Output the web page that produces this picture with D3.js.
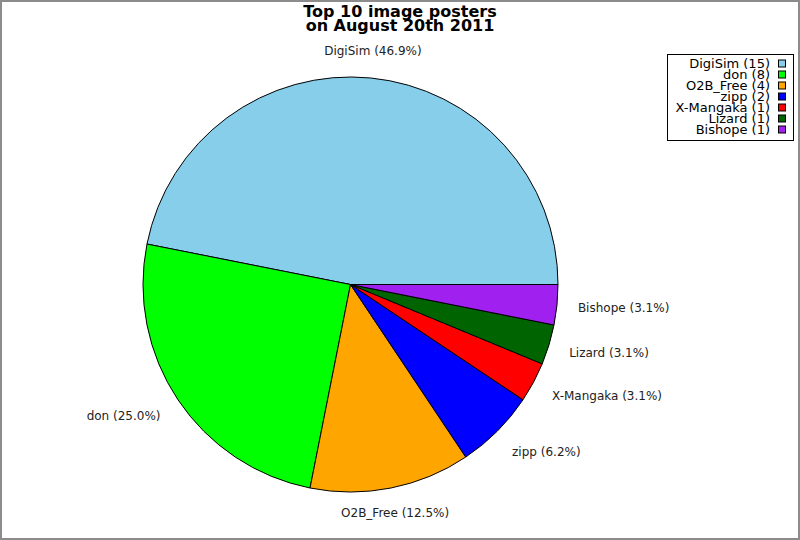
<!DOCTYPE html>
<html>
<head>
<meta charset="utf-8">
<script src="https://cdn.jsdelivr.net/npm/d3@7"></script>
<style>
  body { margin: 0; background: #fff; }
  svg { display: block; }
  text { font-family: "DejaVu Sans", sans-serif; }
</style>
</head>
<body>
<script>
// chart data
var titleLines = ['Top 10 image posters', 'on August 20th 2011'];
var posters = ['DigiSim', 'don', 'O2B_Free', 'zipp', 'X-Mangaka', 'Lizard', 'Bishope'];
var counts = [15, 8, 4, 2, 1, 1, 1];
var colors = ['#87ceeb', '#00ff00', '#ffa500', '#0000ff', '#ff0000', '#006400', '#a020f0'];

var width = 800;
var height = 540;
var cx = 350.5;
var cy = 284.5;
var radius = 207.5;

// one decimal, halves go to the even digit (6.25 -> 6.2)
function pct(v) {
  var t = v * 10;
  var f = Math.floor(t);
  var r = t - f;
  var n = r > 0.5 + 1e-9 ? f + 1 : (r < 0.5 - 1e-9 ? f : (f % 2 === 0 ? f : f + 1));
  return (n / 10).toFixed(1);
}

var svg = d3.select('body')
  .append('svg')
  .attr('width', width)
  .attr('height', height);

// frame
svg.append('rect')
  .attr('x', 1)
  .attr('y', 1)
  .attr('width', width - 2)
  .attr('height', height - 2)
  .attr('fill', '#fff')
  .attr('stroke', '#8c8c8c')
  .attr('stroke-width', 2);

// title
svg.append('g')
  .selectAll('text')
  .data(titleLines)
  .enter()
  .append('text')
  .attr('x', 400)
  .attr('y', function(d, i) { return 17 + i * 13.5; })
  .attr('text-anchor', 'middle')
  .style('font-size', '16px')
  .style('font-weight', 'bold')
  .text(function(d) { return d; });

var total = d3.sum(counts);
var rows = posters.map(function(p, i) {
  return {name: p, value: counts[i], color: colors[i]};
});

// slices start at 3 o'clock and run counter-clockwise
var pie = d3.pie()
  .value(function(d) { return d.value; })
  .sort(null)
  .startAngle(Math.PI / 2)
  .endAngle(Math.PI / 2 - 2 * Math.PI);

var arcs = pie(rows);
var arc = d3.arc().innerRadius(0).outerRadius(radius);

var g = svg.append('g')
  .attr('transform', 'translate(' + cx + ',' + cy + ')');

g.selectAll('path')
  .data(arcs)
  .enter()
  .append('path')
  .attr('d', arc)
  .attr('fill', function(d) { return d.data.color; })
  .attr('stroke', '#000')
  .attr('stroke-width', 1)
  .attr('stroke-linejoin', 'round');

// slice labels
var labelR = radius + 21;
g.selectAll('text.label')
  .data(arcs)
  .enter()
  .append('text')
  .classed('label', true)
  .each(function(d) {
    var mid = (d.startAngle + d.endAngle) / 2; // d3 angle, clockwise from 12
    var a = Math.PI / 2 - mid; // math angle
    var c = Math.cos(a);
    var s = Math.sin(a);
    var x = labelR * c;
    var y = -labelR * s;
    var anchor = 'middle';
    var dy = '0.35em';
    if (Math.abs(c) >= 0.7) {
      anchor = c > 0 ? 'start' : 'end';
      if (s < 0) y += -s * 8;
    } else if (s > 0) {
      dy = '-0.2em';
    } else {
      dy = '0.7em';
    }
    d3.select(this)
      .attr('x', x)
      .attr('y', y)
      .attr('dy', dy)
      .attr('text-anchor', anchor)
      .style('font-size', '12px')
      .style('fill', '#222')
      .text(d.data.name + ' (' + pct(100 * d.data.value / total) + '%)');
  });

// legend
var legend = svg.append('g');
legend.append('rect')
  .attr('x', 667.5)
  .attr('y', 54.5)
  .attr('width', 126)
  .attr('height', 86)
  .attr('fill', '#fff')
  .attr('stroke', '#000');

var item = legend.selectAll('g.item')
  .data(rows)
  .enter()
  .append('g')
  .classed('item', true)
  .attr('transform', function(d, i) { return 'translate(0,' + (63.5 + i * 11) + ')'; });

item.append('text')
  .attr('x', 770)
  .attr('dy', '0.35em')
  .attr('text-anchor', 'end')
  .style('font-size', '13px')
  .text(function(d) { return d.name + ' (' + d.value + ')'; });

item.append('rect')
  .attr('x', 778.5)
  .attr('y', -3.5)
  .attr('width', 7)
  .attr('height', 7)
  .attr('fill', function(d) { return d.color; })
  .attr('stroke', '#000');
</script>
</body>
</html>
